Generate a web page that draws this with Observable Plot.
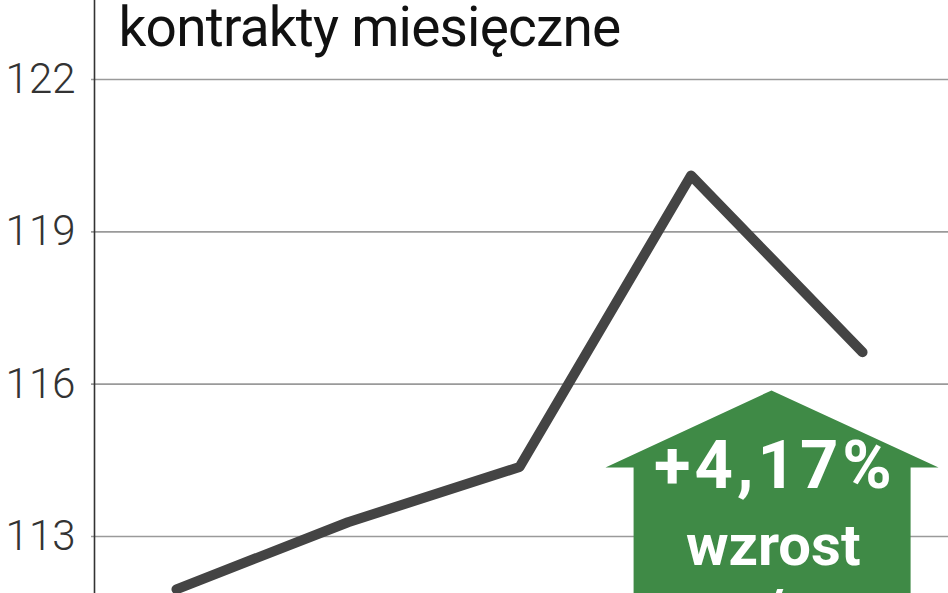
<!DOCTYPE html>
<html>
<head>
<meta charset="utf-8">
<script src="https://cdn.jsdelivr.net/npm/d3@7"></script>
<script src="https://cdn.jsdelivr.net/npm/@observablehq/plot@0.6"></script>
<style>
  html, body { margin: 0; padding: 0; background: #fff; overflow: hidden; }
  #chart svg { display: block; }
</style>
</head>
<body>
<div id="chart"></div>
<script>
// ---- data ----
const periods = [0, 1, 2, 3, 4];                       // monthly contracts (index)
const values  = [111.96, 113.28, 114.37, 120.11, 116.63];
const yTicks  = [113, 116, 119, 122];
const titleText = "kontrakty miesięczne";
const changeLabel = "+4,17%";
const changeWords = ["wzrost", "r/r"];

// arrow annotation outline (x = period index, y = value)
const arrowX = [3.469, 4.443, 4.280, 4.280, 2.665, 2.665, 2.501, 3.469];
const arrowY = [115.876, 114.36, 114.36, 111.0, 111.0, 114.36, 114.36, 115.876];

const series = periods.map((p, i) => ({p, v: values[i]}));
const arrow = arrowX.map((x, i) => ({x, y: arrowY[i]}));
const xDomain = [-0.478, 4.501];
const yDomain = [111.877, 123.556];

const chart = Plot.plot({
  width: 948,
  height: 593,
  marginLeft: 94,
  marginRight: 0,
  marginTop: 0,
  marginBottom: 0,
  style: {background: "#fff", overflow: "hidden"},
  x: {domain: xDomain, axis: null},
  y: {domain: yDomain, axis: null},
  marks: [
    Plot.ruleY(yTicks, {stroke: "#9a9a9a", strokeWidth: 1.6, insetLeft: -3}),
    Plot.ruleX([xDomain[0]], {stroke: "#333", strokeWidth: 1.6}),
    Plot.axisY({
      ticks: yTicks, tickSize: 0, tickPadding: 19, anchor: "left",
      fontSize: 42, fontWeight: 300, fill: "#333", tickFormat: d => String(d)
    }),
    Plot.line(series, {x: "p", y: "v", stroke: "#444", strokeWidth: 10,
      strokeLinecap: "round", strokeLinejoin: "round", clip: true}),
    Plot.line(arrow, {x: "x", y: "y", fill: "#3f8a46", stroke: "none", curve: "linear-closed", clip: true}),
    Plot.text([changeLabel], {x: arrowX[0] + 0.02, y: [113.95], text: d => d, lineAnchor: "bottom",
      fill: "#fff", fontSize: 67, fontWeight: 700, fontFamily: "Roboto", clip: true}),
    Plot.text(changeWords, {x: arrowX[0] + 0.01, y: [112.43, 111.15], text: d => d, lineAnchor: "bottom",
      fill: "#fff", fontSize: 58, fontWeight: 700, fontFamily: "Roboto", clip: true}),
    Plot.text([titleText], {frameAnchor: "top-left", dx: 24, dy: 45, text: d => d,
      lineAnchor: "bottom", textAnchor: "start", fill: "#111", fontSize: 55, fontFamily: "Roboto"})
  ]
});
chart.style.fontFamily = "Roboto";
for (const t of chart.querySelectorAll("text")) {
  if (t.textContent === titleText) t.setAttribute("letter-spacing", "-0.8");
  if (t.textContent === changeLabel) t.setAttribute("letter-spacing", "4");
}
document.getElementById("chart").appendChild(chart);
</script>
</body>
</html>
